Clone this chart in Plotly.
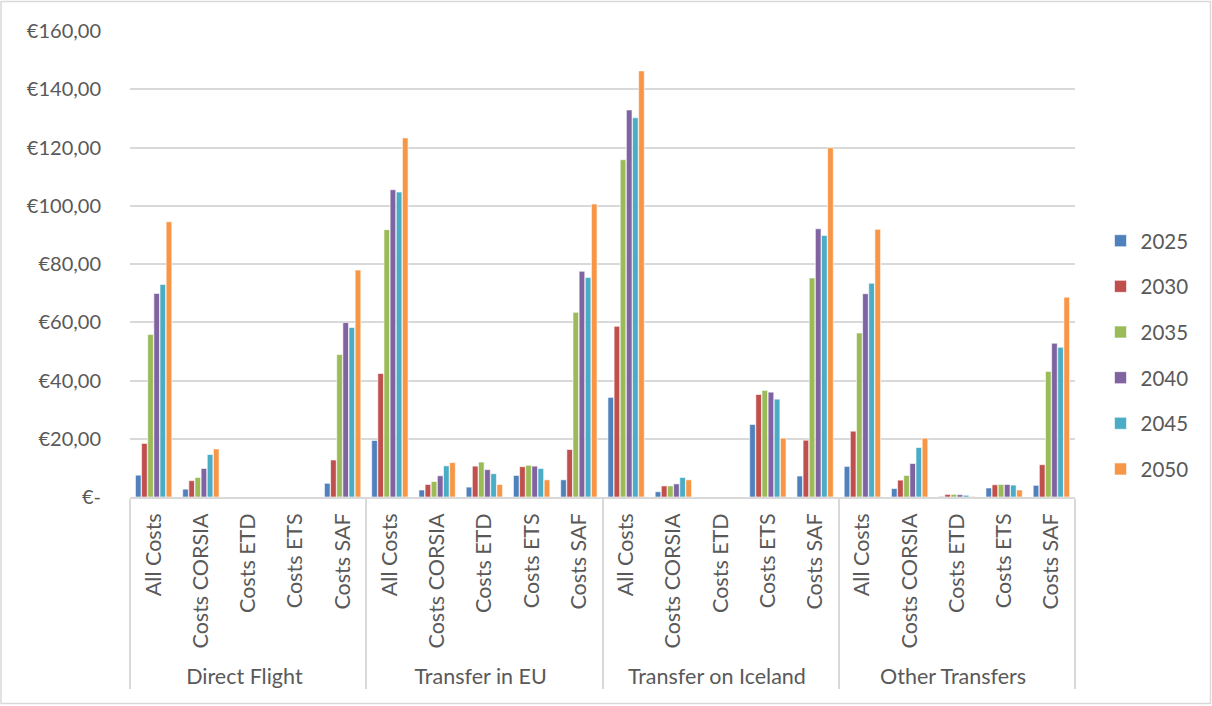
import plotly.graph_objects as go

# Route types (outer level) and cost components (inner level)
routes = ["Direct Flight", "Transfer in EU", "Transfer on Iceland", "Other Transfers"]
components = ["All Costs", "Costs CORSIA", "Costs ETD", "Costs ETS", "Costs SAF"]

years = ["2025", "2030", "2035", "2040", "2045", "2050"]

# Values per year, ordered route by route, component by component (EUR)
v2025 = [7.5, 2.7, 0, 0, 4.7,   19.4, 2.4, 3.4, 7.4, 5.9,    34.2, 1.8, 0, 24.9, 7.2,    10.5, 2.9, 0.2, 3.1, 4.0]
v2030 = [18.4, 5.6, 0, 0, 12.7, 42.4, 4.3, 10.6, 10.4, 16.3, 58.6, 3.8, 0, 35.2, 19.5,   22.6, 5.8, 0.9, 4.2, 11.1]
v2035 = [55.8, 6.7, 0, 0, 48.9, 91.8, 5.3, 12.0, 10.9, 63.4, 115.8, 3.8, 0, 36.6, 75.2,  56.3, 7.4, 0.9, 4.3, 43.1]
v2040 = [69.9, 9.8, 0, 0, 59.9, 105.5, 7.3, 9.4, 10.6, 77.5, 132.9, 4.5, 0, 36.0, 92.1, 69.8, 11.5, 0.8, 4.3, 52.8]
v2045 = [73.0, 14.6, 0, 0, 58.2, 104.7, 10.7, 8.0, 9.8, 75.4, 130.2, 6.7, 0, 33.6, 89.8, 73.4, 17.0, 0.6, 4.1, 51.4]
v2050 = [94.5, 16.5, 0, 0, 77.9, 123.3, 11.8, 4.3, 5.9, 100.6, 146.3, 5.9, 0, 20.2, 119.9, 91.9, 20.2, 0.2, 2.4, 68.6]

series = [v2025, v2030, v2035, v2040, v2045, v2050]
colors = ["#4F81BD", "#C0504D", "#9BBB59", "#8064A2", "#4BACC6", "#F79646"]

# Y-axis ticks in euro accounting format
tick_vals = [0, 20, 40, 60, 80, 100, 120, 140, 160]
tick_text = ["€-", "€20,00", "€40,00", "€60,00", "€80,00", "€100,00", "€120,00", "€140,00", "€160,00"]

outer = [r for r in routes for _ in components]
inner = [c for _ in routes for c in components]

FONT = "Lato, 'Open Sans', sans-serif"
GREY = "#595959"

fig = go.Figure()
for i, (yr, vals, col) in enumerate(zip(years, series, colors)):
    fig.add_trace(go.Bar(
        x=[outer, inner],
        y=vals,
        name=yr,
        legendgroup=yr,
        marker=dict(color=col, line=dict(color="white", width=0.6)),
    ))

fig.update_layout(
    width=1212, height=706,
    margin=dict(l=130, r=137, t=31, b=209, autoexpand=False),
    paper_bgcolor="white",
    plot_bgcolor="white",
    barmode="group",
    bargap=0.22,
    bargroupgap=0.08,
    font=dict(family=FONT, size=20, color=GREY),
    showlegend=True,
    legend=dict(
        x=1.027, xanchor="left",
        y=0.305, yanchor="middle",
        font=dict(family=FONT, size=20.5, color=GREY),
        tracegroupgap=16,
        itemwidth=30,
        bgcolor="rgba(0,0,0,0)",
    ),
    xaxis=dict(
        type="multicategory",
        tickangle=-90,
        showline=True,
        linecolor="#D9D9D9",
        linewidth=1.5,
        showdividers=True,
        dividercolor="#D9D9D9",
        dividerwidth=1.5,
        ticks="",
        ticklabelstandoff=6,
        tickfont=dict(family=FONT, size=21.5, color=GREY),
        automargin=False,
        fixedrange=True,
    ),
    yaxis=dict(
        range=[0, 160],
        tickvals=tick_vals,
        ticktext=tick_text,
        showgrid=True,
        gridcolor="#D9D9D9",
        gridwidth=1.5,
        zeroline=False,
        showline=False,
        ticks="",
        ticklabelstandoff=28,
        tickfont=dict(family=FONT, size=20, color=GREY),
        automargin=False,
        fixedrange=True,
    ),
    shapes=[
        # outer border around the whole chart area
        dict(type="rect", xref="paper", yref="paper",
             x0=(1 - 130) / 945, x1=(1210.5 - 130) / 945,
             y0=(497 - 703.5) / 466, y1=(497 - 1.5) / 466,
             line=dict(color="#D9D9D9", width=1.5), layer="below"),
    ],
)

fig.write_html("out.html")
